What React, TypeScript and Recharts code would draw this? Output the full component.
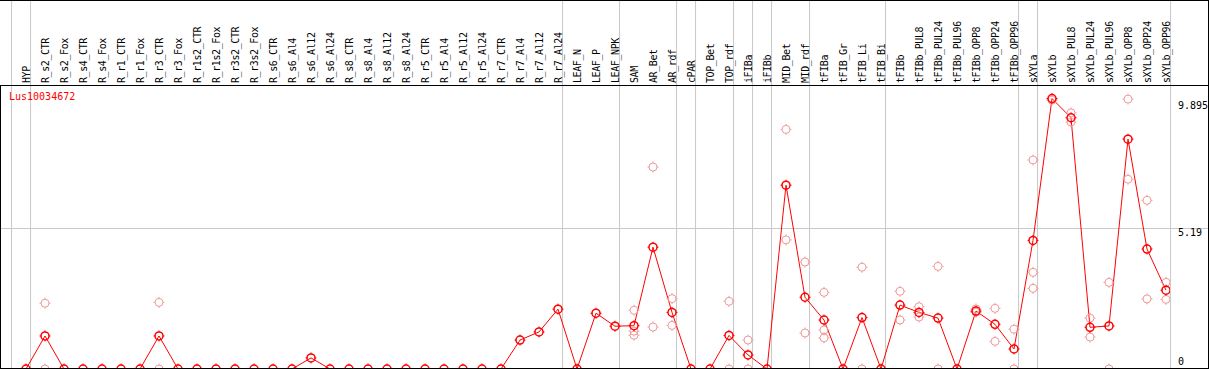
import { ComposedChart, Line, Scatter, XAxis, YAxis, ReferenceLine } from "recharts"

const categories = [
  "HYP", "R_s2_CTR", "R_s2_Fox", "R_s4_CTR", "R_s4_Fox", "R_r1_CTR", "R_r1_Fox",
  "R_r3_CTR", "R_r3_Fox", "R_r1s2_CTR", "R_r1s2_Fox", "R_r3s2_CTR", "R_r3s2_Fox",
  "R_s6_CTR", "R_s6_Al4", "R_s6_Al12", "R_s6_Al24", "R_s8_CTR", "R_s8_Al4",
  "R_s8_Al12", "R_s8_Al24", "R_r5_CTR", "R_r5_Al4", "R_r5_Al12", "R_r5_Al24",
  "R_r7_CTR", "R_r7_Al4", "R_r7_Al12", "R_r7_Al24", "LEAF_N", "LEAF_P", "LEAF_NPK",
  "SAM", "AR_Bet", "AR_rdf", "cPAR", "TOP_Bet", "TOP_rdf", "iFIBa", "iFIBb",
  "MID_Bet", "MID_rdf", "tFIBa", "tFIB_Gr", "tFIB_Li", "tFIB_Bi", "tFIBb",
  "tFIBb_PUL8", "tFIBb_PUL24", "tFIBb_PUL96", "tFIBb_OPP8", "tFIBb_OPP24",
  "tFIBb_OPP96", "sXYLa", "sXYLb", "sXYLb_PUL8", "sXYLb_PUL24", "sXYLb_PUL96",
  "sXYLb_OPP8", "sXYLb_OPP24", "sXYLb_OPP96",
]

// mean expression per sample
const meanValues = [
  0, 1.22, 0, 0, 0, 0, 0,
  1.22, 0, 0, 0, 0, 0,
  0, 0, 0.41, 0, 0, 0,
  0, 0, 0, 0, 0, 0,
  0, 1.07, 1.37, 2.21, 0, 2.06, 1.58,
  1.6, 4.5, 2.09, 0, 0, 1.24, 0.52, 0,
  6.79, 2.65, 1.81, 0, 1.9, 0, 2.36,
  2.09, 1.88, 0, 2.14, 1.65,
  0.74, 4.75, 9.99, 9.28, 1.54, 1.59,
  8.49, 4.43, 2.91,
]

// individual replicates (only those not hidden under the mean)
const replicates: [string, number][] = [
  ["R_s2_CTR", 2.43], ["R_s2_CTR", 0],
  ["R_r3_CTR", 2.46], ["R_r3_CTR", 0],
  ["SAM", 2.17], ["SAM", 1.4], ["SAM", 1.25],
  ["AR_Bet", 7.46], ["AR_Bet", 1.55],
  ["AR_rdf", 2.6], ["AR_rdf", 1.61],
  ["TOP_rdf", 2.5], ["TOP_rdf", 0],
  ["iFIBa", 1.07], ["iFIBa", 0],
  ["MID_Bet", 8.85], ["MID_Bet", 4.77],
  ["MID_rdf", 3.95], ["MID_rdf", 1.33],
  ["tFIBa", 2.83], ["tFIBa", 1.44], ["tFIBa", 1.15],
  ["tFIB_Li", 3.76], ["tFIB_Li", 0],
  ["tFIBb", 2.87], ["tFIBb", 1.81],
  ["tFIBb_PUL8", 2.3], ["tFIBb_PUL8", 1.92],
  ["tFIBb_PUL24", 3.79], ["tFIBb_PUL24", 0],
  ["tFIBb_OPP8", 2.22], ["tFIBb_OPP8", 2.1],
  ["tFIBb_OPP24", 2.24], ["tFIBb_OPP24", 1.02],
  ["tFIBb_OPP96", 1.47], ["tFIBb_OPP96", 0],
  ["sXYLa", 7.72], ["sXYLa", 3.57], ["sXYLa", 2.98],
  ["sXYLb", 9.93],
  ["sXYLb_PUL8", 9.46], ["sXYLb_PUL8", 9.12],
  ["sXYLb_PUL24", 1.88], ["sXYLb_PUL24", 1.18],
  ["sXYLb_PUL96", 3.2], ["sXYLb_PUL96", 0],
  ["sXYLb_OPP8", 9.97], ["sXYLb_OPP8", 7.01],
  ["sXYLb_OPP24", 6.23], ["sXYLb_OPP24", 2.59],
  ["sXYLb_OPP96", 3.2], ["sXYLb_OPP96", 2.57],
]

// a separator line is drawn after each of these samples
const groupEnds = [
  "HYP", "R_r7_Al24", "LEAF_NPK", "AR_rdf", "cPAR", "TOP_rdf", "iFIBa",
  "iFIBb", "MID_rdf", "tFIB_Bi", "tFIBb_OPP96", "sXYLa", "sXYLb_OPP96",
]

const yTicks = [0, 5.19, 9.895]
const geneName = "Lus10034672"

const FONT = "'DejaVu Sans Mono', monospace"
const RED = "#ff0000"
const PINK = "#f09a9a"
const GRID = "#c8c8c8"

const X_MIN = -25 / 19
const X_MAX = X_MIN + 1169 / 19
const Y_MAX = 10.49
const Y_TOP = 13.63 // value at the very top of the picture

const mainData = meanValues.map((v, i) => ({ x: i, v }))
const repData = replicates.map(([name, r]) => ({ x: categories.indexOf(name), r }))
const sepX = [-1, ...groupEnds.map((n) => categories.indexOf(n))].map((i) => i + 0.24)

function Marker({ cx, cy, color, width }: any) {
  if (cx == null || cy == null) return null
  return (
    <g stroke={color} strokeWidth={width} fill="none">
      <circle cx={cx} cy={cy} r={4} />
      <line x1={cx} y1={cy - 4} x2={cx} y2={cy - 5.5} strokeWidth={1} />
      <line x1={cx} y1={cy + 4} x2={cx} y2={cy + 5.5} strokeWidth={1} />
      <line x1={cx - 4} y1={cy} x2={cx - 5.5} y2={cy} strokeWidth={1} />
      <line x1={cx + 4} y1={cy} x2={cx + 5.5} y2={cy} strokeWidth={1} />
    </g>
  )
}

function HeaderTick({ x, payload }: any) {
  const bx = x + 4
  return (
    <text
      x={bx}
      y={83}
      transform={`rotate(-90 ${bx} 83)`}
      fontFamily={FONT}
      fontSize={10}
      letterSpacing={-0.4}
      fill="#000"
      textAnchor="start"
    >
      {categories[payload.value]}
    </text>
  )
}

function ValueTick({ y, payload }: any) {
  const v = payload.value
  const ty = v === 0 ? y - 4 : y + 8
  return (
    <text x={1178} y={ty} fontFamily={FONT} fontSize={10} fill="#000">
      {String(v)}
    </text>
  )
}

export default function App() {
  return (
    <div style={{ position: "relative", width: 1209, height: 370 }}>
      <style>{"body{margin:0}"}</style>
      <ComposedChart
        width={1209}
        height={370}
        data={mainData}
        margin={{ top: 0, right: 0, bottom: 1, left: 1 }}
      >
        <XAxis
          dataKey="x"
          type="number"
          orientation="top"
          height={85}
          domain={[X_MIN, X_MAX]}
          allowDataOverflow
          ticks={categories.map((_, i) => i)}
          interval={0}
          tick={<HeaderTick />}
          tickLine={false}
          axisLine={false}
        />
        <YAxis
          type="number"
          orientation="right"
          width={39}
          domain={[0, Y_MAX]}
          allowDataOverflow
          ticks={yTicks}
          interval={0}
          tick={<ValueTick />}
          tickLine={false}
          axisLine={false}
        />
        <ReferenceLine
          ifOverflow="visible"
          segment={[{ x: X_MIN, y: 5.19 }, { x: 62.21, y: 5.19 }]}
          stroke={GRID}
          strokeWidth={1}
        />
        {sepX.map((sx) => (
          <ReferenceLine
            key={sx}
            ifOverflow="visible"
            segment={[{ x: sx, y: 0 }, { x: sx, y: Y_TOP }]}
            stroke={GRID}
            strokeWidth={1}
          />
        ))}
        <Scatter
          data={repData}
          dataKey="r"
          isAnimationActive={false}
          shape={(p: any) => <Marker cx={p.cx} cy={p.cy} color={PINK} width={1} />}
        />
        <Line
          type="linear"
          dataKey="v"
          stroke={RED}
          strokeWidth={1}
          isAnimationActive={false}
          activeDot={false}
          dot={(p: any) => <Marker key={p.index} cx={p.cx} cy={p.cy} color={RED} width={1.5} />}
        />
      </ComposedChart>
      <div style={{ position: "absolute", left: 0, top: 0, width: 1209, height: 1, background: "#000" }} />
      <div style={{ position: "absolute", left: 0, top: 85, width: 1209, height: 1, background: "#000" }} />
      <div style={{ position: "absolute", left: 0, top: 368, width: 1209, height: 1, background: "#000" }} />
      <div style={{ position: "absolute", left: 0, top: 85, width: 1, height: 284, background: "#000" }} />
      <div style={{ position: "absolute", left: 1208, top: 0, width: 1, height: 369, background: "#000" }} />
      <div
        style={{
          position: "absolute",
          left: 9,
          top: 92,
          fontFamily: FONT,
          fontSize: 10,
          lineHeight: "10px",
          color: RED,
        }}
      >
        {geneName}
      </div>
    </div>
  )
}
